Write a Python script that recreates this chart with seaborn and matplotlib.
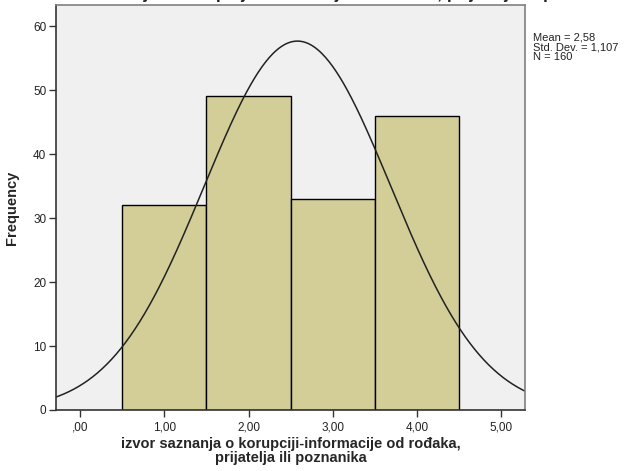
import numpy as np
import pandas as pd
import matplotlib
matplotlib.use("Agg")
import matplotlib.pyplot as plt
import seaborn as sns

categories = [1, 2, 3, 4]
counts = [32, 49, 33, 46]
mean_val = 2.58
sd_val = 1.107
n_val = 160
xtick_vals = [0, 1, 2, 3, 4, 5]
xtick_labels = [",00", "1,00", "2,00", "3,00", "4,00", "5,00"]
ytick_vals = [0, 10, 20, 30, 40, 50, 60]
title_text = "izvor saznanja o korupciji-informacije od rođaka, prijatelja ili poznanika"
xlabel_text = "izvor saznanja o korupciji-informacije od rođaka,\nprijatelja ili poznanika"

sns.set_style("white")
plt.rcParams['font.family'] = ['Liberation Sans', 'DejaVu Sans']

fig = plt.figure(figsize=(6.29, 4.71), dpi=100)
ax = fig.add_axes([56/629, 61/471, 469/629, 405/471])
ax.set_facecolor("#F0F0F0")

df = pd.DataFrame({"val": categories, "cnt": counts})
sns.histplot(data=df, x="val", weights="cnt", bins=[0.5, 1.5, 2.5, 3.5, 4.5],
             color="#D3CE97", alpha=1, edgecolor="black", linewidth=1.0, ax=ax)

xs = np.linspace(-0.3, 5.3, 400)
pdf = n_val * 1.0 / (sd_val * np.sqrt(2 * np.pi)) * np.exp(-0.5 * ((xs - mean_val) / sd_val) ** 2)
sns.lineplot(x=xs, y=pdf, color="#222222", linewidth=1.1, ax=ax)

ax.set_xlim(-0.285, 5.28)
ax.set_ylim(0, 63.3)
ax.set_xticks(xtick_vals)
ax.set_xticklabels(xtick_labels)
ax.set_yticks(ytick_vals)
ax.tick_params(axis='both', direction='out', length=5, width=1, color="#333333",
               labelsize=8.5, labelcolor="#222222", pad=2, bottom=True, left=True)
ax.tick_params(axis='x', pad=3)
for sp in ax.spines.values():
    sp.set_color("#808080")
    sp.set_linewidth(1.2)
ax.spines['left'].set_color("#333333")
ax.spines['bottom'].set_color("#333333")

ax.set_ylabel("Frequency", fontsize=10.5, fontweight='bold', labelpad=10)
ax.set_xlabel(xlabel_text, fontsize=10.5, fontweight='bold', linespacing=0.95, labelpad=3)

fig.text(533/629, 1 - 33/471, "Mean = 2,58\nStd. Dev. = 1,107\nN = 160",
         fontsize=8, va='top', ha='left', linespacing=0.95, color="#222222")

fig.text(0.53, 1.0 + 5/471, title_text, fontsize=12.5, fontweight='bold',
         ha='center', va='center', color="#222222")

fig.savefig("out.png", dpi=100)
